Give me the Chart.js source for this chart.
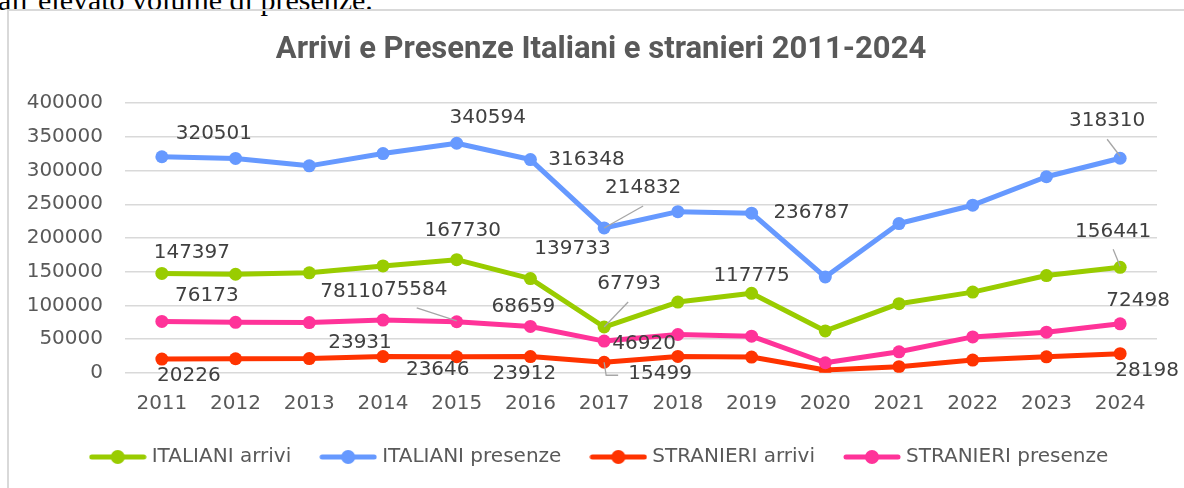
<!DOCTYPE html>
<html>
<head>
<meta charset="utf-8">
<script src="https://cdn.jsdelivr.net/npm/chart.js@4.4.1/dist/chart.umd.min.js"></script>
<style>
    html, body { margin: 0; padding: 0; background: #fff; overflow: hidden; }
    #wrap { position: relative; width: 1184px; height: 488px; overflow: hidden; }
    #doc { position: absolute; left: -2px; top: -15px; font: 30px 'Liberation Serif', serif; line-height: 30px; color: #000; white-space: nowrap; }
    #frame { position: absolute; left: 7px; top: 9px; width: 1177px; height: 479px; border-top: 2px solid #d9d9d9; border-left: 2px solid #d9d9d9; box-sizing: border-box; }
    #chart { position: absolute; left: 0; top: 0; }
</style>
</head>
<body>
<div id="wrap">
    <div id="doc">all’elevato volume di presenze.</div>
    <div id="frame"></div>
    <canvas id="chart" width="1184" height="488"></canvas>
</div>
<script>
const years = ['2011', '2012', '2013', '2014', '2015', '2016', '2017', '2018', '2019', '2020', '2021', '2022', '2023', '2024'];
const italianiArrivi = [147397, 146100, 148200, 158500, 167730, 139733, 67793, 104800, 117775, 62000, 102400, 119600, 144200, 156441];
const italianiPresenze = [320501, 318000, 307000, 325300, 340594, 316348, 214832, 239000, 236787, 142000, 221400, 248600, 290800, 318310];
const stranieriArrivi = [20226, 20700, 21000, 23931, 23646, 23912, 15499, 24200, 23200, 4000, 8900, 18700, 23600, 28198];
const stranieriPresenze = [76173, 74800, 74400, 78110, 75584, 68659, 46920, 56700, 54200, 14800, 31000, 53100, 60100, 72498];
const yTicks = [0, 50000, 100000, 150000, 200000, 250000, 300000, 350000, 400000];

const seriesNames = ['ITALIANI arrivi', 'ITALIANI presenze', 'STRANIERI arrivi', 'STRANIERI presenze'];
const seriesColors = ['#99cc00', '#6699ff', '#ff3300', '#ff3399'];

// where the visible data labels sit, relative to their point (ds = dataset, i = year index)
const labelSpots = [
    { ds: 1, i: 0, dx: 52, dy: -23 },
    { ds: 1, i: 4, dx: 31, dy: -25 },
    { ds: 1, i: 5, dx: 56, dy: 0 },
    { ds: 1, i: 6, dx: 39, dy: -40, leader: [[0, 0], [39, -22]] },
    { ds: 1, i: 8, dx: 60, dy: 0 },
    { ds: 1, i: 13, dx: -13, dy: -37, leader: [[0, -2], [-13, -19]] },
    { ds: 0, i: 0, dx: 30, dy: -21 },
    { ds: 0, i: 4, dx: 6, dy: -29 },
    { ds: 0, i: 5, dx: 42, dy: -30 },
    { ds: 0, i: 6, dx: 25, dy: -43, leader: [[0, 0], [24, -25]] },
    { ds: 0, i: 8, dx: 0, dy: -18 },
    { ds: 0, i: 13, dx: -7, dy: -36, leader: [[0, -1], [-7, -18]] },
    { ds: 3, i: 0, dx: 45, dy: -26 },
    { ds: 3, i: 3, dx: -31, dy: -28 },
    { ds: 3, i: 4, dx: -41, dy: -32, leader: [[0, -1], [-40, -14]] },
    { ds: 3, i: 5, dx: -7, dy: -20 },
    { ds: 3, i: 6, dx: 40, dy: 3 },
    { ds: 3, i: 13, dx: 18, dy: -23 },
    { ds: 2, i: 0, dx: 27, dy: 17 },
    { ds: 2, i: 3, dx: -23, dy: -14 },
    { ds: 2, i: 4, dx: -19, dy: 13 },
    { ds: 2, i: 5, dx: -6, dy: 17 },
    { ds: 2, i: 6, dx: 56, dy: 12, leader: [[0, 0], [2, 13], [14, 13]] },
    { ds: 2, i: 13, dx: 27, dy: 17 }
];

const textFont = "'DejaVu Sans', sans-serif";

// legend marker: short line with a dot in the middle
function legendMarker(color) {
    const c = document.createElement('canvas');
    c.width = 58;
    c.height = 16;
    const g = c.getContext('2d');
    g.strokeStyle = color;
    g.lineWidth = 5;
    g.lineCap = 'round';
    g.beginPath();
    g.moveTo(3, 8);
    g.lineTo(55, 8);
    g.stroke();
    g.fillStyle = color;
    g.beginPath();
    g.arc(29, 8, 7, 0, Math.PI * 2);
    g.fill();
    return c;
}
const markers = seriesColors.map(legendMarker);

const dataLabels = {
    id: 'dataLabels',
    afterDatasetsDraw(chart) {
        const ctx = chart.ctx;
        ctx.save();
        ctx.strokeStyle = '#a6a6a6';
        ctx.lineWidth = 1.3;
        labelSpots.forEach(s => {
            if (!s.leader) return;
            const pt = chart.getDatasetMeta(s.ds).data[s.i];
            ctx.beginPath();
            s.leader.forEach((p, k) => {
                if (k === 0) ctx.moveTo(pt.x + p[0], pt.y + p[1]);
                else ctx.lineTo(pt.x + p[0], pt.y + p[1]);
            });
            ctx.stroke();
        });
        ctx.fillStyle = '#404040';
        ctx.font = '20px ' + textFont;
        ctx.textAlign = 'center';
        ctx.textBaseline = 'middle';
        labelSpots.forEach(s => {
            const pt = chart.getDatasetMeta(s.ds).data[s.i];
            const value = chart.data.datasets[s.ds].data[s.i];
            ctx.fillText(String(value), pt.x + s.dx, pt.y + s.dy);
        });
        ctx.restore();
    }
};

const allSeries = [italianiArrivi, italianiPresenze, stranieriArrivi, stranieriPresenze];

new Chart(document.getElementById('chart').getContext('2d'), {
    type: 'line',
    data: {
        labels: years,
        datasets: allSeries.map((values, k) => ({
            label: seriesNames[k],
            data: values,
            borderColor: seriesColors[k],
            backgroundColor: seriesColors[k],
            pointBackgroundColor: seriesColors[k],
            pointBorderWidth: 0,
            pointRadius: 6.5,
            borderWidth: 5,
            borderJoinStyle: 'round',
            borderCapStyle: 'round',
            order: 4 - k,
            yAxisID: 'y'
        }))
    },
    options: {
        responsive: false,
        animation: false,
        devicePixelRatio: 1,
        layout: {
            padding: { left: 18, right: 0, top: 0, bottom: 11 }
        },
        plugins: {
            tooltip: { enabled: false },
            title: {
                display: true,
                text: 'Arrivi e Presenze Italiani e stranieri 2011-2024',
                color: '#595959',
                font: { family: 'Roboto', size: 31, weight: 'bold' },
                padding: { top: 32, bottom: 34 }
            },
            legend: {
                position: 'bottom',
                labels: {
                    usePointStyle: true,
                    pointStyleWidth: 48,
                    padding: 33,
                    color: '#595959',
                    font: { family: textFont, size: 20 },
                    sort: (a, b) => a.datasetIndex - b.datasetIndex,
                    generateLabels(chart) {
                        const items = Chart.defaults.plugins.legend.labels.generateLabels(chart);
                        items.forEach(item => { item.pointStyle = markers[item.datasetIndex]; });
                        return items;
                    }
                }
            }
        },
        scales: {
            x: {
                offset: true,
                grid: { display: false },
                border: { display: false },
                ticks: {
                    color: '#595959',
                    padding: 11,
                    font: { family: textFont, size: 20 }
                },
                afterFit(scale) { scale.height = 41.3; }
            },
            y: {
                min: 0,
                max: 400000,
                afterBuildTicks(scale) { scale.ticks = yTicks.map(v => ({ value: v })); },
                grid: { color: '#d9d9d9', lineWidth: 1.5, drawTicks: false },
                border: { display: false },
                ticks: {
                    color: '#595959',
                    padding: 22,
                    font: { family: textFont, size: 20 },
                    callback: v => String(v)
                },
                afterFit(scale) { scale.width = 107; }
            },
            pad: {
                position: 'right',
                grid: { display: false },
                border: { display: false },
                ticks: { display: false },
                afterFit(scale) { scale.width = 27; }
            }
        }
    },
    plugins: [dataLabels]
});
</script>
</body>
</html>
